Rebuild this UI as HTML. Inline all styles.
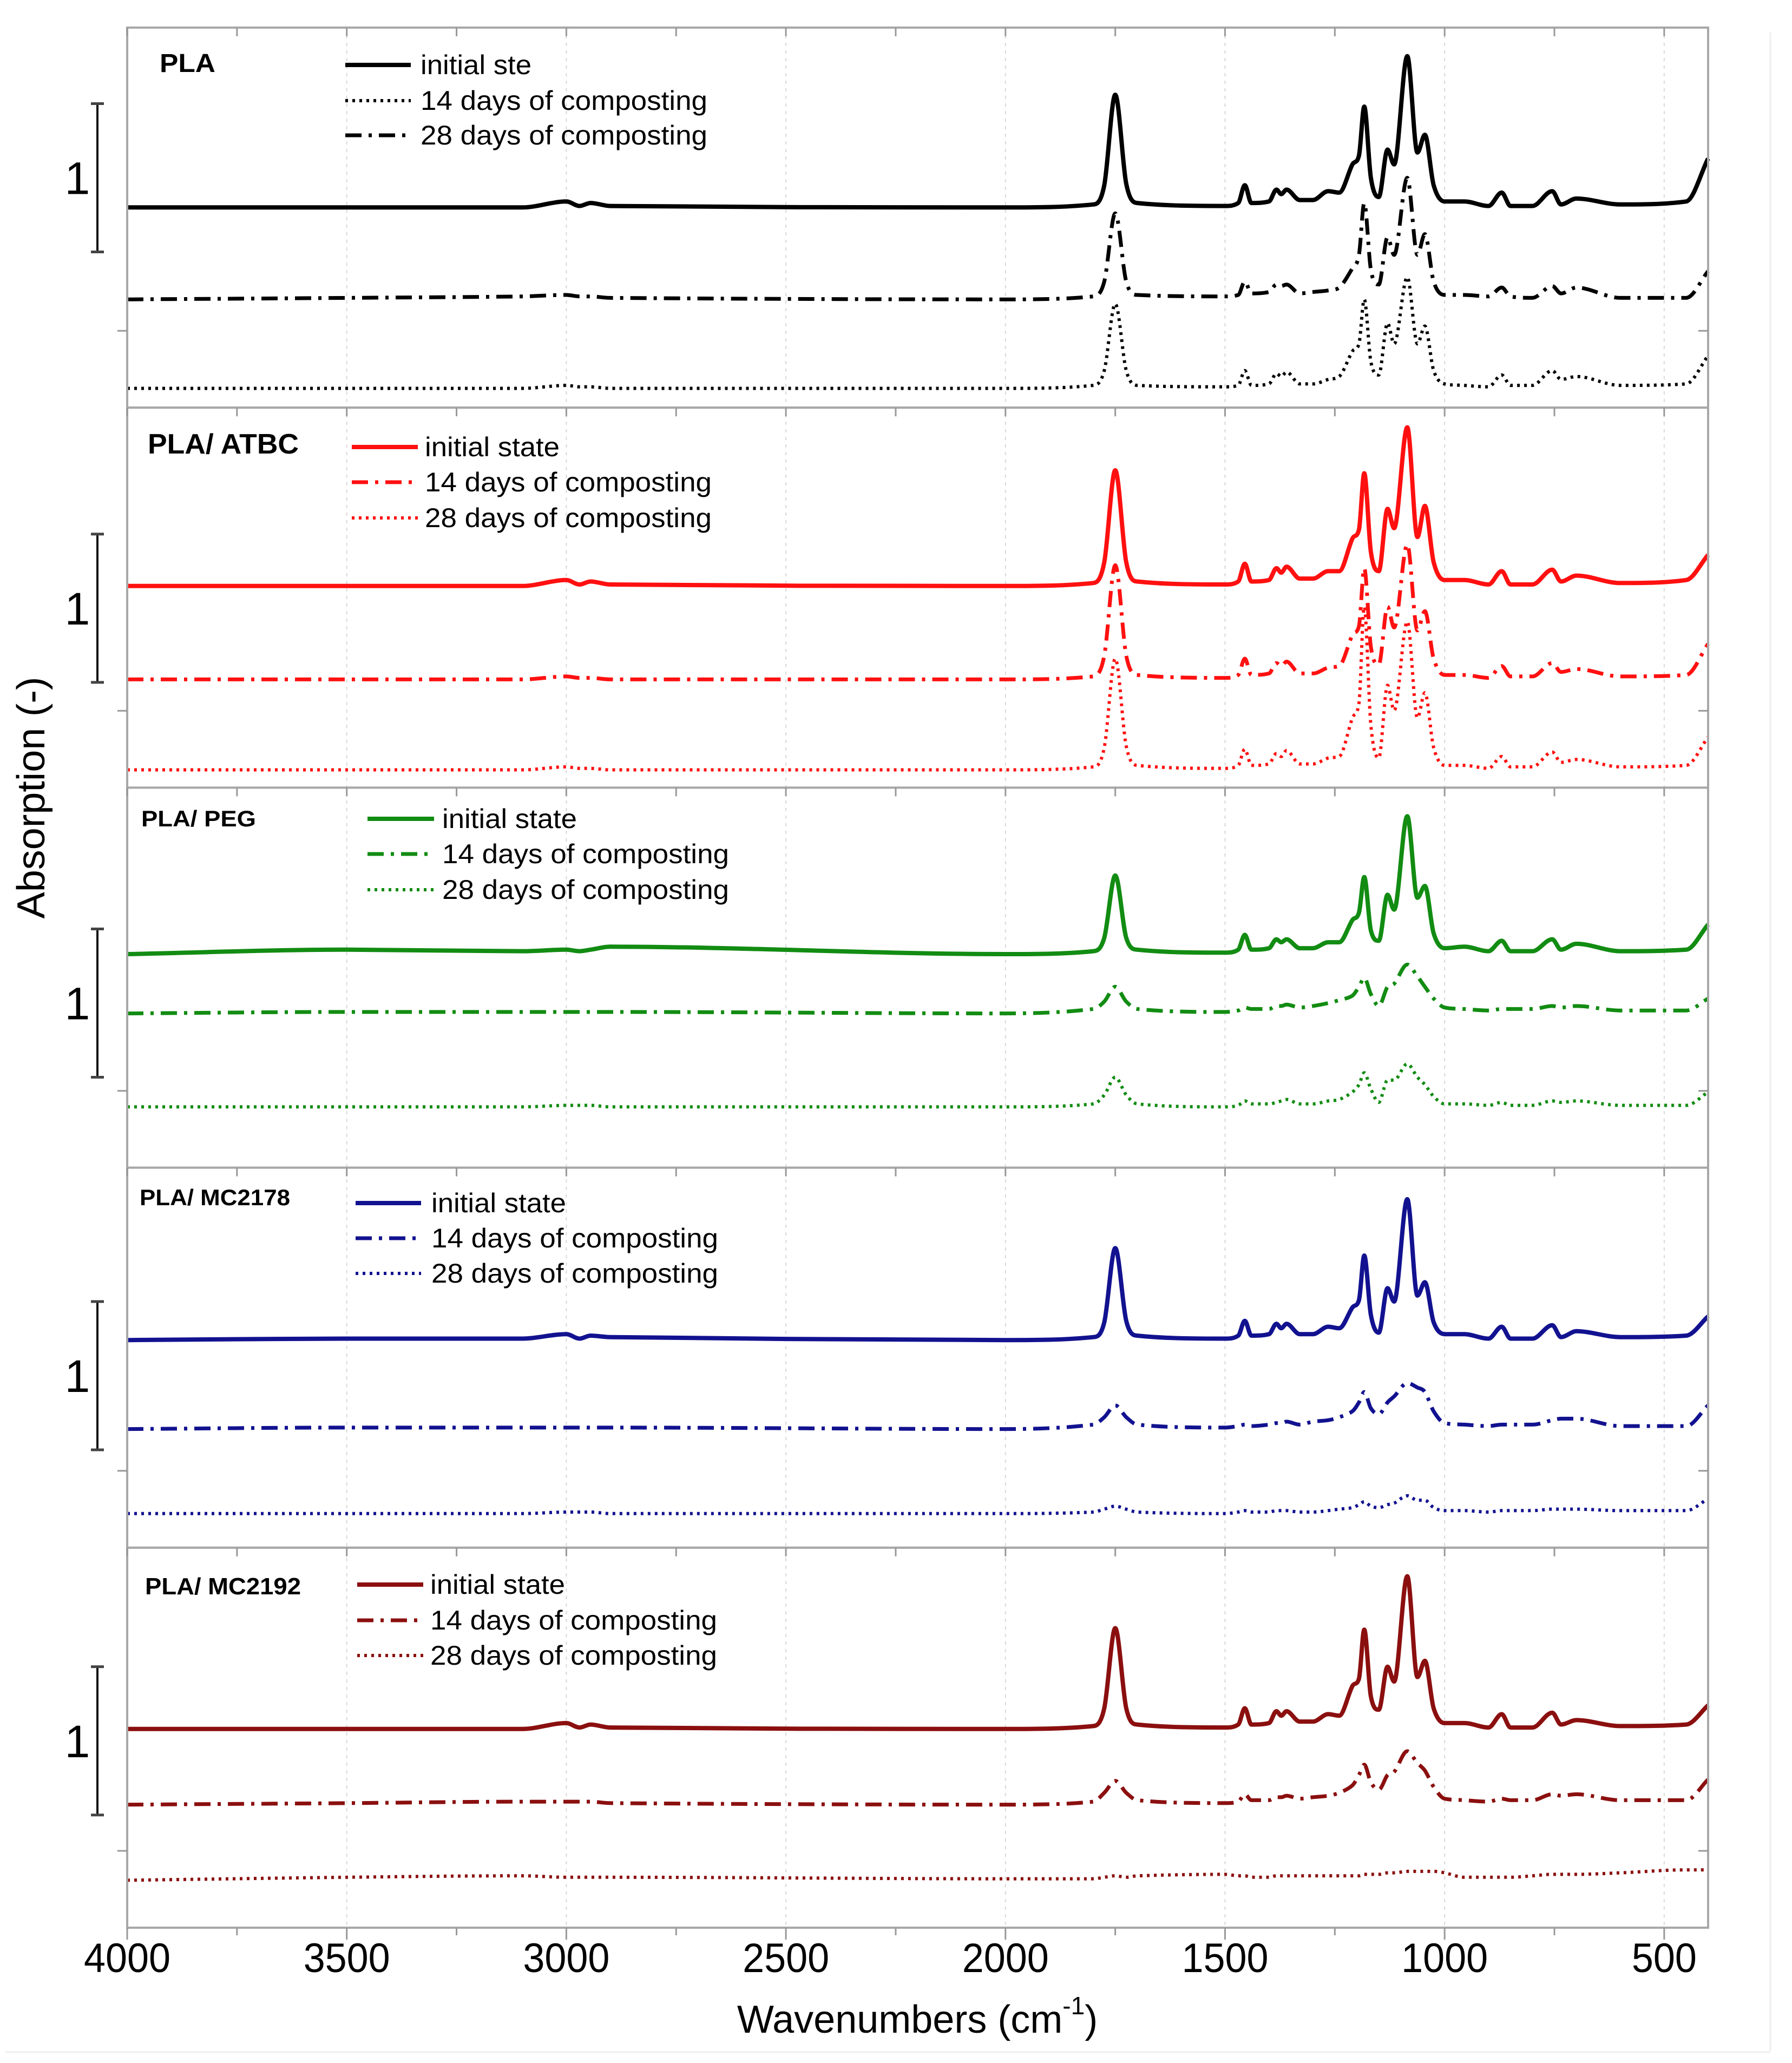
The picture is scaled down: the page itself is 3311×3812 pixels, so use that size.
<!DOCTYPE html>
<html><head><meta charset="utf-8"><title>FTIR spectra of PLA blends during composting</title>
<style>
html,body{margin:0;padding:0;background:#fff;}
svg{display:block;font-family:"Liberation Sans",Arial,sans-serif;}
</style></head>
<body>
<svg id="chart" xmlns="http://www.w3.org/2000/svg" width="3311" height="3812" viewBox="0 0 3311 3812">
<rect x="0" y="0" width="3311" height="3812" fill="#fff"/>
<line x1="3271" y1="60" x2="3271" y2="3790" stroke="#f2f2f2" stroke-width="4"/>
<line x1="10" y1="3792" x2="3271" y2="3792" stroke="#f2f2f2" stroke-width="4"/>
<g id="grid"></g>
<g id="series"></g>
<g id="frame"></g>
<g id="legends"></g>
<text x="1695" y="3756" font-size="72" text-anchor="middle">Wavenumbers (cm<tspan font-size="46" dy="-34">-1</tspan><tspan dy="34">)</tspan></text>
<text transform="translate(82,1474) rotate(-90)" font-size="72" text-anchor="middle" textLength="447" lengthAdjust="spacingAndGlyphs">Absorption (-)</text>
</svg>
<script>
// ---- data ----
const wavenumbers = [4000,3500,3100,3000,2970,2945,2900,2000,1800,1775,1750,1725,1700,1500,1470,1455,1440,1400,1383,1372,1360,1330,1300,1265,1240,1210,1195,1183,1168,1150,1130,1115,1085,1062,1045,1025,1000,955,900,870,850,800,755,735,700,600,450,400];
const xTicks = [4000,3500,3000,2500,2000,1500,1000,500];
const xTickLabels = ["4000","3500","3000","2500","2000","1500","1000","500"];
const panelNames = ["PLA","PLA/ ATBC","PLA/ PEG","PLA/ MC2178","PLA/ MC2192"];
const legendInitial = ["initial ste","initial state","initial state","initial state","initial state"];
const scaleBarValue = 1;

const pla_initial = [0,0,0,.04,.01,.03,.01,0,.02,.15,.76,.16,.03,.01,.03,.15,.03,.04,.12,.09,.12,.05,.05,.11,.1,.29,.35,.68,.2,.07,.39,.29,1.02,.37,.49,.15,.04,.04,.01,.1,.01,.01,.11,.02,.06,.02,.04,.33];
const pla_28d = [0,.01,.02,.03,.02,.02,.01,0,.02,.12,.58,.12,.03,.02,.03,.12,.04,.05,.1,.09,.1,.04,.05,.06,.08,.21,.3,.65,.2,.1,.42,.3,.82,.3,.44,.12,.03,.03,.02,.08,.02,.01,.09,.04,.08,.01,.01,.19];
const pla_14d = [0,0,0,.02,.01,.01,0,0,.02,.12,.57,.12,.02,.01,.02,.12,.02,.03,.1,.08,.11,.03,.03,.06,.08,.25,.3,.6,.18,.09,.44,.3,.75,.3,.42,.12,.03,.02,.01,.09,.02,.02,.12,.06,.08,.02,.03,.22];
const atbc_initial = [0,0,0,.04,.01,.03,.01,0,.02,.16,.78,.16,.03,.01,.03,.15,.03,.04,.12,.09,.13,.05,.05,.1,.1,.32,.38,.76,.23,.1,.52,.39,1.07,.33,.54,.16,.04,.04,.01,.1,.01,.01,.11,.03,.07,.02,.04,.21];
const atbc_14d = [0,0,0,.02,.01,.01,0,0,.02,.16,.77,.16,.03,.01,.03,.14,.03,.04,.11,.09,.12,.04,.04,.08,.09,.3,.36,.75,.22,.1,.49,.35,.91,.33,.46,.14,.03,.03,.01,.09,.02,.02,.11,.05,.07,.02,.03,.24];
const atbc_28d = [0,0,0,.02,.01,.01,0,0,.02,.15,.75,.16,.03,.01,.03,.14,.03,.04,.11,.09,.13,.04,.04,.08,.09,.35,.45,1.1,.3,.08,.57,.4,1.0,.35,.52,.15,.03,.03,.01,.09,.02,.02,.12,.05,.07,.02,.03,.22];
const peg_initial = [0,.03,.02,.03,.02,.03,.05,0,.02,.11,.53,.11,.03,.01,.03,.13,.03,.04,.1,.08,.1,.04,.04,.08,.08,.23,.28,.52,.16,.09,.4,.3,.93,.38,.46,.14,.04,.05,.02,.09,.02,.02,.1,.03,.07,.02,.03,.2];
const peg_14d = [0,.01,.01,.01,.01,.01,.01,0,.03,.08,.18,.08,.03,.01,.02,.04,.03,.03,.05,.05,.06,.04,.05,.07,.09,.12,.18,.24,.13,.05,.18,.2,.33,.25,.18,.1,.04,.03,.02,.03,.03,.03,.05,.04,.05,.02,.02,.1];
const peg_28d = [0,0,0,.01,.01,.01,0,0,.02,.08,.2,.08,.02,0,.01,.04,.02,.02,.03,.04,.05,.02,.02,.04,.05,.1,.15,.23,.12,.03,.18,.18,.29,.2,.15,.07,.02,.02,.01,.03,.01,.01,.04,.03,.04,.01,.01,.1];
const mc2178_initial = [0,.01,.01,.04,.01,.03,.02,0,.02,.12,.62,.13,.03,.01,.03,.13,.03,.04,.11,.08,.11,.04,.04,.09,.08,.22,.27,.57,.17,.05,.35,.26,.95,.3,.39,.12,.04,.04,.01,.09,.01,.01,.1,.02,.06,.02,.03,.16];
const mc2178_14d = [0,.01,.01,.01,.01,.01,.01,0,.03,.08,.16,.08,.03,.01,.02,.03,.02,.03,.04,.04,.05,.03,.05,.06,.08,.12,.18,.25,.14,.1,.18,.22,.31,.28,.25,.12,.04,.03,.02,.03,.03,.03,.06,.07,.07,.02,.02,.16];
const mc2178_28d = [0,0,0,.01,.01,.01,0,0,.01,.03,.05,.03,.01,0,.01,.02,.01,.01,.02,.02,.02,.01,.01,.02,.03,.04,.06,.08,.05,.04,.06,.07,.12,.09,.09,.04,.02,.02,.01,.02,.02,.02,.03,.03,.03,.02,.02,.1];
const mc2192_initial = [0,0,0,.04,.01,.03,.01,0,.02,.14,.68,.14,.03,.01,.03,.14,.03,.04,.12,.09,.12,.05,.05,.1,.09,.29,.34,.67,.22,.13,.42,.32,1.03,.35,.46,.14,.04,.04,.01,.1,.01,.01,.11,.03,.06,.02,.03,.16];
const mc2192_14d = [0,.01,.02,.02,.02,.02,.01,0,.02,.08,.16,.08,.03,.01,.02,.07,.03,.03,.05,.05,.06,.04,.05,.06,.08,.13,.2,.27,.15,.1,.2,.22,.36,.28,.23,.12,.04,.03,.02,.04,.03,.03,.07,.06,.07,.03,.03,.17];
const mc2192_28d = [0,.02,.03,.02,.02,.02,.02,.01,.01,.02,.03,.02,.03,.04,.03,.03,.02,.02,.03,.03,.03,.03,.03,.03,.03,.03,.03,.04,.04,.04,.05,.05,.06,.06,.06,.06,.05,.02,.02,.02,.02,.03,.04,.04,.04,.05,.07,.07];
// stacking offsets (absorbance units above each panel's bottom)
const offsetsInitial = [1.35,1.36,1.44,1.40,1.34];
const offsetsMiddle = [0.73,0.73,1.04,0.80,0.83];
const offsetsBottom = [0.13,0.12,0.41,0.23,0.32];
// scale-bar lower end (absorbance units above each panel's bottom)
const scaleBarBase = [1.05,0.71,0.61,0.66,0.76];

// ---- layout ----
const X0=235, X1=3156, WMAX=4000, WMIN=400;
const PTOP=51, PH=702.2, UNIT=274;
function xs(w){return X0+(WMAX-w)*(X1-X0)/(WMAX-WMIN);}
function panelBottom(p){return PTOP+PH*(p+1);}
function ys(p,v){return panelBottom(p)-v*UNIT;}
const NS="http://www.w3.org/2000/svg";
function mk(tag,attrs,parent){const e=document.createElementNS(NS,tag);for(const k in attrs)e.setAttribute(k,attrs[k]);parent.appendChild(e);return e;}

const colors=["#000000","#ff1010","#128c12","#121290","#8b0f0f"];
const DASH={solid:"",dashdot:"30 13 6 13",dotted:"5 8"};
const W={solid:8,dashdot:7,dotted:6};

const grid=document.getElementById('grid');
const frame=document.getElementById('frame');
const ser=document.getElementById('series');
const leg=document.getElementById('legends');

xTicks.forEach(function(w){
  const g=mk('line',{x1:xs(w),x2:xs(w),y1:PTOP,y2:panelBottom(4),stroke:'#d8d8d8','stroke-width':2,'stroke-dasharray':'6 8'},grid);
  
  
});

for(let p=0;p<5;p++){
  const top=PTOP+PH*p, bot=panelBottom(p);
  const r=mk('rect',{x:X0,y:top,width:X1-X0,height:PH,fill:'none',stroke:'#a8a8a8','stroke-width':4},frame);
  
  
  for(let w=4000;w>=500;w-=250){
    const t=mk('line',{x1:xs(w),x2:xs(w),y1:top,y2:top+16,stroke:'#999','stroke-width':3},frame);
    
    
  }
  const yt=mk('line',{x1:X0-18,x2:X0,y1:bot-142,y2:bot-142,stroke:'#999','stroke-width':3},frame);
  
  
  const yt2=mk('line',{x1:X1-18,x2:X1,y1:bot-142,y2:bot-142,stroke:'#999','stroke-width':3},frame);
  
  
  const b0=ys(p,scaleBarBase[p]), b1=b0-scaleBarValue*UNIT;
  const sb=mk('line',{x1:180,x2:180,y1:b1,y2:b0,stroke:'#111','stroke-width':4},frame);
  
  
  [b0,b1].forEach(function(yy){
    const c=mk('line',{x1:168,x2:192,y1:yy,y2:yy,stroke:'#444','stroke-width':5},frame);
    
    
  });
  const sl=mk('text',{x:143,y:(b0+b1)/2+30,'font-size':84,'text-anchor':'middle'},frame);
  sl.textContent=String(scaleBarValue);
  
  
}
for(let w=4000;w>=500;w-=250){
  const t=mk('line',{x1:xs(w),x2:xs(w),y1:panelBottom(4),y2:panelBottom(4)+(w%500===0?22:14),stroke:'#999','stroke-width':3},frame);
  
  
}
xTicks.forEach(function(w,i){
  const t=mk('text',{x:xs(w),y:3644,'font-size':76,'text-anchor':'middle',textLength:xTickLabels[i].length*40,lengthAdjust:'spacingAndGlyphs'},frame);
  t.textContent=xTickLabels[i];
  
  
});

function pathFor(p,vals,off){
  const pts=wavenumbers.map(function(w,i){return [xs(w),ys(p,off+vals[i])];});
  const n=pts.length, m=[];
  for(let i=0;i<n;i++){
    const a=pts[Math.max(0,i-1)], b=pts[Math.min(n-1,i+1)];
    let s=(b[1]-a[1])/(b[0]-a[0]);
    if(i>0&&i<n-1){
      const s1=(pts[i][1]-a[1])/(pts[i][0]-a[0]), s2=(b[1]-pts[i][1])/(b[0]-pts[i][0]);
      if(s1*s2<=0) s=0; else { const lim=3*Math.min(Math.abs(s1),Math.abs(s2)); if(Math.abs(s)>lim) s=Math.sign(s)*lim; }
    }
    m.push(s);
  }
  let d='M'+pts[0][0].toFixed(1)+','+pts[0][1].toFixed(1);
  for(let i=0;i<n-1;i++){
    const p1=pts[i],p2=pts[i+1],dx=(p2[0]-p1[0])/3;
    d+=' C'+(p1[0]+dx).toFixed(1)+','+(p1[1]+m[i]*dx).toFixed(1)+' '+(p2[0]-dx).toFixed(1)+','+(p2[1]-m[i+1]*dx).toFixed(1)+' '+p2[0].toFixed(1)+','+p2[1].toFixed(1);
  }
  return d;
}
const panels=[
  {init:pla_initial,mid:pla_28d,bot:pla_14d,midName:'28d',botName:'14d'},
  {init:atbc_initial,mid:atbc_14d,bot:atbc_28d,midName:'14d',botName:'28d'},
  {init:peg_initial,mid:peg_14d,bot:peg_28d,midName:'14d',botName:'28d'},
  {init:mc2178_initial,mid:mc2178_14d,bot:mc2178_28d,midName:'14d',botName:'28d'},
  {init:mc2192_initial,mid:mc2192_14d,bot:mc2192_28d,midName:'14d',botName:'28d'}
];
panels.forEach(function(P,p){
  const c=colors[p];
  const a=mk('path',{d:pathFor(p,P.init,offsetsInitial[p]),fill:'none',stroke:c,'stroke-width':W.solid,'stroke-linejoin':'round'},ser);
  
  
  const b=mk('path',{d:pathFor(p,P.mid,offsetsMiddle[p]),fill:'none',stroke:c,'stroke-width':W.dashdot,'stroke-dasharray':DASH.dashdot},ser);
  
  
  const e=mk('path',{d:pathFor(p,P.bot,offsetsBottom[p]),fill:'none',stroke:c,'stroke-width':W.dotted,'stroke-dasharray':DASH.dotted},ser);
  
  
});

const L=[
  {tx:295,ty:133,tw:103,fs:48,lx0:638,lx1:759,txt:777,rows:[120,186,250],order:['solid','dotted','dashdot'],labels:[legendInitial[0],'14 days of composting','28 days of composting']},
  {tx:273,ty:838,tw:279,fs:52,lx0:650,lx1:772,txt:785,rows:[826,891,957],order:['solid','dashdot','dotted'],labels:[legendInitial[1],'14 days of composting','28 days of composting']},
  {tx:261,ty:1527,tw:212,fs:42,lx0:679,lx1:802,txt:817,rows:[1513,1578,1644],order:['solid','dashdot','dotted'],labels:[legendInitial[2],'14 days of composting','28 days of composting']},
  {tx:258,ty:2227,tw:278,fs:42,lx0:657,lx1:778,txt:797,rows:[2223,2288,2353],order:['solid','dashdot','dotted'],labels:[legendInitial[3],'14 days of composting','28 days of composting']},
  {tx:268,ty:2946,tw:288,fs:44,lx0:660,lx1:782,txt:795,rows:[2928,2994,3059],order:['solid','dashdot','dotted'],labels:[legendInitial[4],'14 days of composting','28 days of composting']}
];
L.forEach(function(l,p){
  const t=mk('text',{x:l.tx,y:l.ty,'font-size':l.fs,'font-weight':'bold',textLength:l.tw,lengthAdjust:'spacingAndGlyphs'},leg);
  t.textContent=panelNames[p];
  
  
  l.rows.forEach(function(ry,i){
    const st=l.order[i];
    const ln=mk('line',{x1:l.lx0,x2:l.lx1,y1:ry,y2:ry,stroke:colors[p],'stroke-width':W[st]},leg);
    if(DASH[st])ln.setAttribute('stroke-dasharray',DASH[st]);
    
    
    const lab=l.labels[i];
    const tw=lab.indexOf('initial')===0?(lab==='initial ste'?205:249):530;
    const tt=mk('text',{x:l.txt,y:ry+17,'font-size':50,textLength:tw,lengthAdjust:'spacingAndGlyphs'},leg);
    tt.textContent=lab;
    
    
  });
});
</script>
</body></html>
